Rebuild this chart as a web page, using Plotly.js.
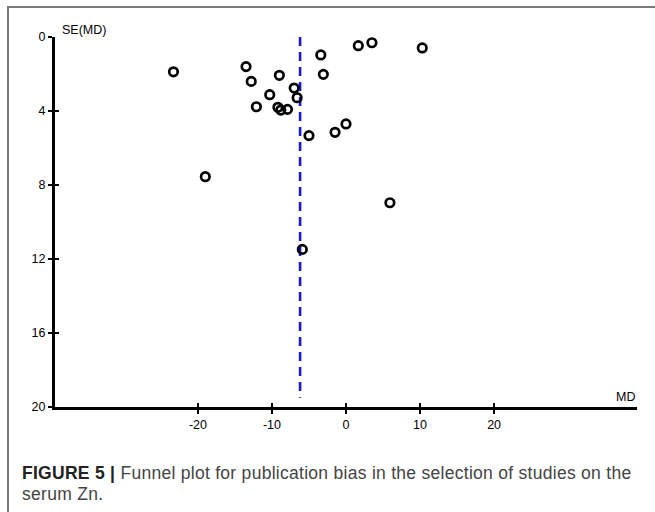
<!DOCTYPE html>
<html>
<head>
<meta charset="utf-8">
<script src="https://cdn.plot.ly/plotly-3.0.1.min.js"></script>
<style>
  html, body { margin: 0; padding: 0; background: #ffffff; }
  #wrap { position: relative; width: 655px; height: 512px; overflow: hidden; }
  #chart { position: absolute; left: 0; top: 0; width: 655px; height: 512px; }
  #frame { position: absolute; left: 7px; top: 6px; width: 700px; height: 600px;
           border-top: 2px solid #7a7a7a; border-left: 2px solid #7a7a7a; pointer-events: none; }
  #caption { position: absolute; left: 22px; top: 463px; width: 632px; white-space: nowrap;
             font-family: "Liberation Sans", Arial, sans-serif; font-size: 17.5px; line-height: 21px;
             letter-spacing: 0.28px; color: #444444; }
  #caption b { color: #222222; }
</style>
</head>
<body>
<div id="wrap">
  <div id="chart"></div>
  <div id="frame"></div>
  <div id="caption"><b>FIGURE 5 |</b> Funnel plot for publication bias in the selection of studies on the<br>serum Zn.</div>
</div>
<script>
// Study estimates: mean difference (MD) and its standard error SE(MD)
var md = [-23.3, -13.5, -12.8, -9.0, -7.0, -10.3, -6.6, -12.1, -9.2, -8.8, -7.9,
          -5.0, -19.0, -3.4, -3.06, 1.66, 3.5, 10.3, -1.48, 0.0, 5.93, -5.9];
var se = [1.88, 1.6, 2.4, 2.07, 2.76, 3.12, 3.28, 3.77, 3.8, 3.95, 3.91,
          5.33, 7.55, 0.97, 2.02, 0.47, 0.31, 0.59, 5.15, 4.7, 8.96, 11.48];
// Pooled estimate (dashed reference line)
var pooledMD = -6.2;
var pooledLineSE = [0, 19.5];
// Axis ticks
var xTicks = [-20, -10, 0, 10, 20];
var yTicks = [0, 4, 8, 12, 16, 20];
var xRange = [-39.3, 39.3];
var yRange = [20, 0];

var traces = [
  {
    x: [pooledMD, pooledMD], y: pooledLineSE,
    type: 'scatter', mode: 'lines',
    line: { color: '#1a1ad0', width: 2.6, dash: '9px,6px' },
    hoverinfo: 'skip', showlegend: false
  },
  {
    x: md, y: se,
    type: 'scatter', mode: 'markers',
    marker: { symbol: 'circle-open', size: 8.5, color: '#000000', line: { width: 2.7, color: '#000000' } },
    cliponaxis: false, showlegend: false
  },
  {
    x: [], y: [], xaxis: 'x2', yaxis: 'y2', type: 'scatter', mode: 'markers', showlegend: false
  }
];

var tickFont = { family: '"Liberation Sans", Arial, sans-serif', size: 12.5, color: '#000000' };

var layout = {
  width: 655, height: 512,
  margin: { l: 55, r: 18, t: 37, b: 105, pad: 0 },
  paper_bgcolor: 'rgba(0,0,0,0)',
  plot_bgcolor: 'rgba(0,0,0,0)',
  showlegend: false,
  xaxis: {
    range: xRange, tickvals: xTicks, ticktext: xTicks.map(String),
    showgrid: false, zeroline: false, showline: true, linecolor: '#000000', linewidth: 3,
    ticks: 'outside', ticklen: 4, tickwidth: 2.5, tickcolor: '#000000',
    tickfont: tickFont, anchor: 'y', fixedrange: true
  },
  yaxis: {
    range: yRange, tickvals: yTicks, ticktext: yTicks.map(String),
    showgrid: false, zeroline: false, showline: true, linecolor: '#000000', linewidth: 3,
    ticks: 'outside', ticklen: 4, tickwidth: 2.5, tickcolor: '#000000',
    tickfont: tickFont, anchor: 'x', fixedrange: true
  },
  xaxis2: {
    range: xRange, tickvals: xTicks, showticklabels: false, overlaying: 'x',
    showgrid: false, zeroline: false, showline: false,
    ticks: 'inside', ticklen: 4, tickwidth: 2.5, tickcolor: '#000000', anchor: 'y2', side: 'bottom'
  },
  yaxis2: {
    range: yRange, tickvals: yTicks, showticklabels: false, overlaying: 'y',
    showgrid: false, zeroline: false, showline: false,
    ticks: 'inside', ticklen: 4, tickwidth: 2.5, tickcolor: '#000000', anchor: 'x2', side: 'left'
  },
  annotations: [
    {
      text: 'SE(MD)', xref: 'paper', yref: 'paper', x: 0, y: 1,
      xanchor: 'left', yanchor: 'bottom', xshift: 5, yshift: -2, showarrow: false,
      font: { family: '"Liberation Sans", Arial, sans-serif', size: 12.5, color: '#000000' }
    },
    {
      text: 'MD', xref: 'paper', yref: 'paper', x: 1, y: 0,
      xanchor: 'right', yanchor: 'bottom', xshift: 0, yshift: 1, showarrow: false,
      font: { family: '"Liberation Sans", Arial, sans-serif', size: 12.5, color: '#000000' }
    }
  ]
};

Plotly.newPlot('chart', traces, layout, { staticPlot: true, displayModeBar: false });
</script>
</body>
</html>
